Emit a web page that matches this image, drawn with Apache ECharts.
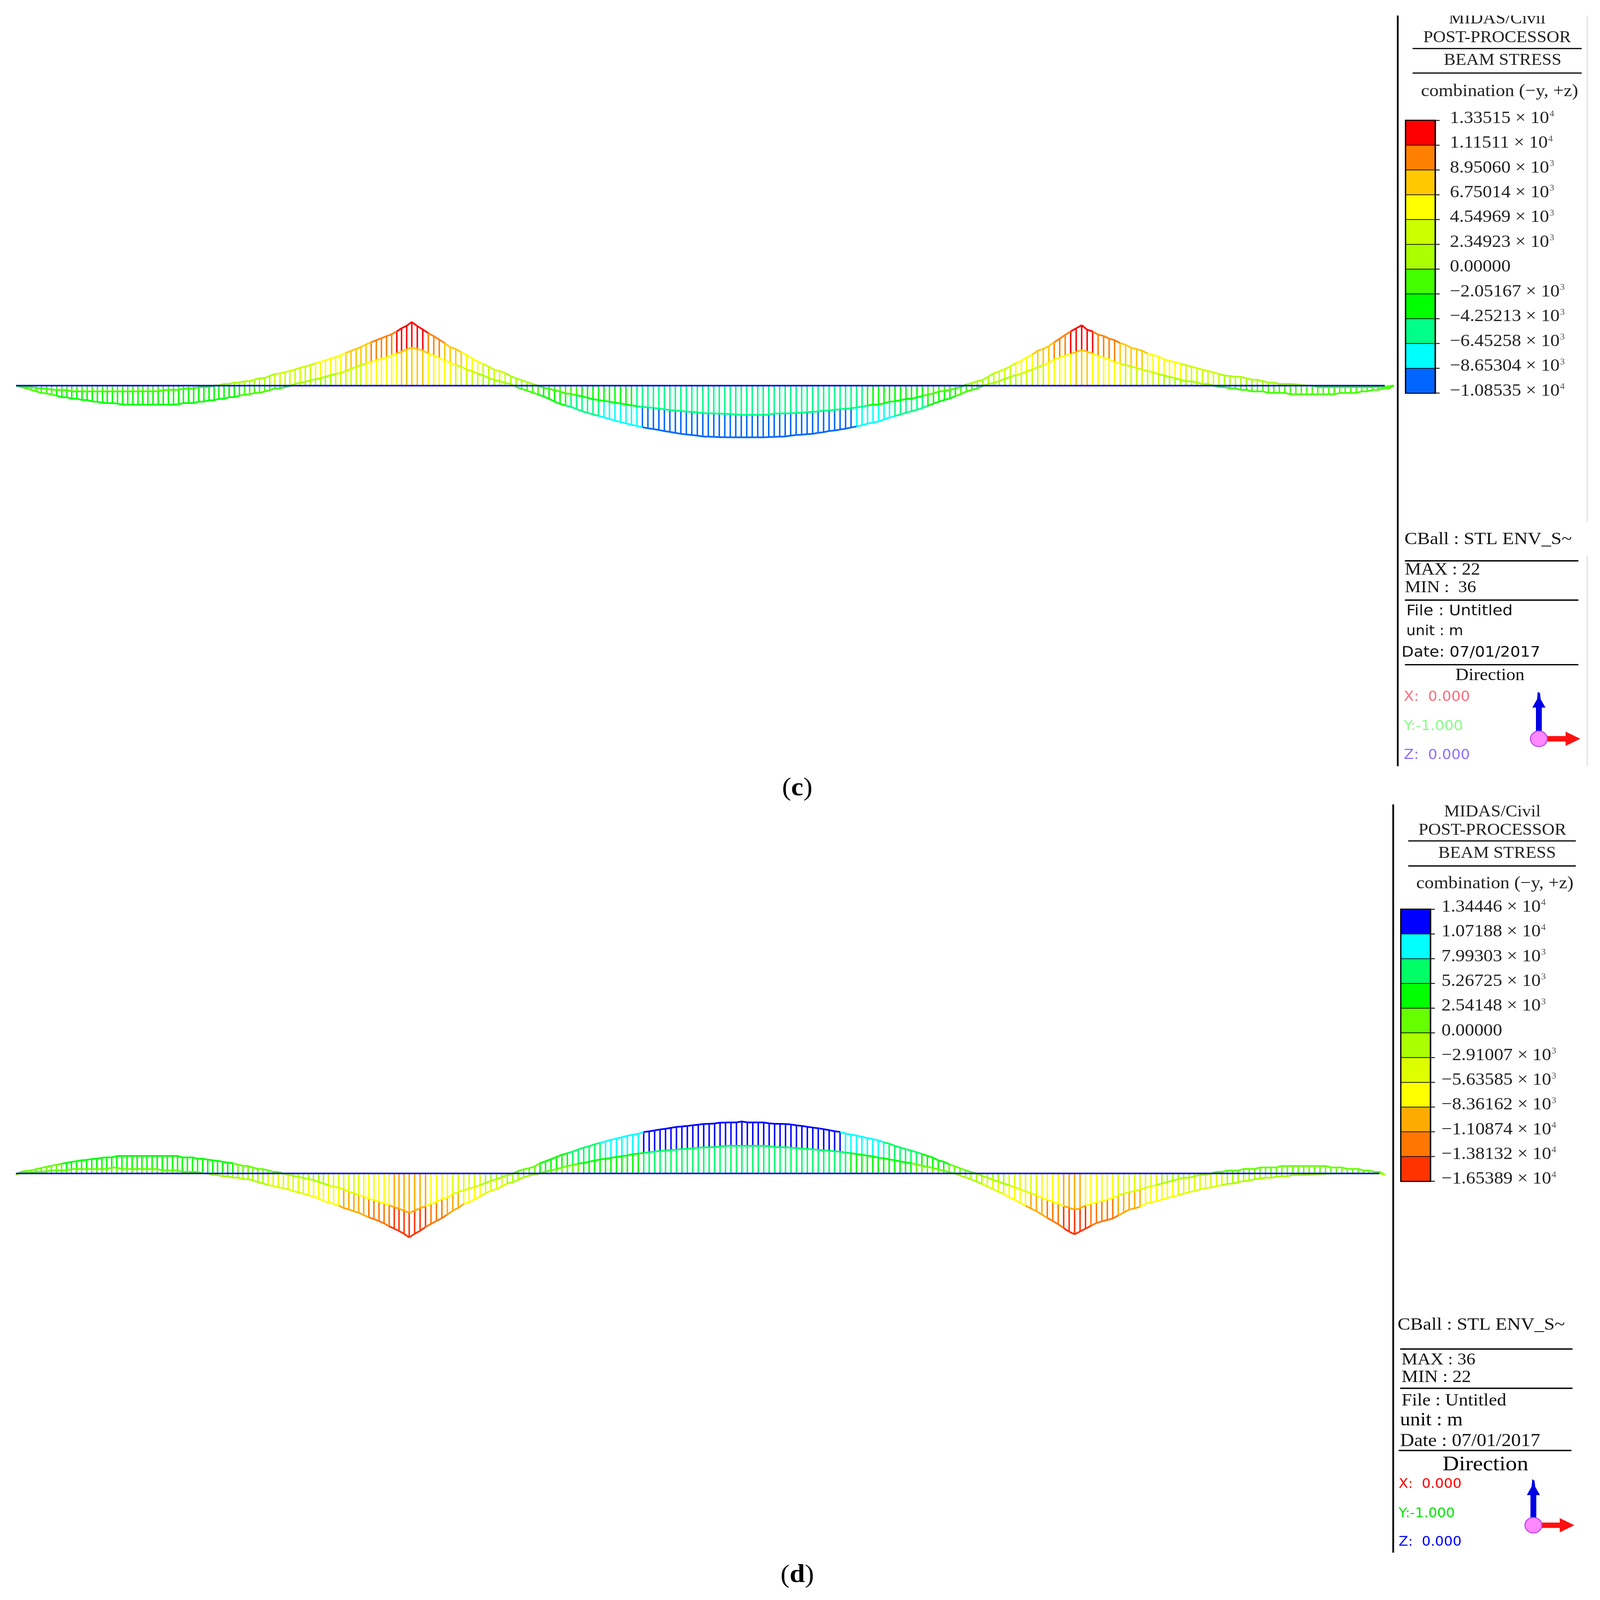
<!DOCTYPE html>
<html>
<head>
<meta charset="utf-8">
<title>Beam stress</title>
<script src="https://cdn.jsdelivr.net/npm/echarts@6/dist/echarts.min.js"></script>
<style>
html,body{margin:0;padding:0;background:#fff;overflow:hidden;}
</style>
</head>
<body>
<div id="main"></div>
<script>
// position along the bridge, side span / main span / side span
var stations=[
0,1.4,2.8,4.2,5.5,6.9,8.3,9.7,11.1,12.5,
13.9,15.2,16.6,18,19.4,20.8,22.2,23.6,24.9,26.3,
27.7,29.1,30.5,31.9,33.3,34.6,36,37.4,38.8,40.2,
41.6,43,44.4,45.7,47.1,48.5,49.9,51.3,52.7,54.1,
55.4,56.8,58.2,59.6,61,62.4,63.8,65.1,66.5,67.9,
69.3,70.7,72.1,73.5,74.8,76.2,77.6,79,80.4,81.8,
83.2,84.5,85.9,87.3,88.7,90.1,91.5,92.9,94.2,95.6,
97,98.4,99.8,101.2,102.6,104,105.3,106.7,108.1,
109.6,111.1,112.6,114.1,115.6,117.1,118.6,120.1,121.6,123.1,
124.6,126.1,127.6,129.1,130.6,132.1,133.6,135.1,136.6,138.1,
139.6,141.1,142.6,144.1,145.6,147.1,148.6,150.1,151.6,153.1,
154.6,156.1,157.6,159.1,160.6,162.1,163.6,165.1,166.6,168.1,
169.6,171.1,172.6,174.1,175.6,177.1,178.6,180.1,181.6,183.1,
184.6,186.1,187.6,189.1,190.6,192.1,193.6,195.1,196.6,198.1,
199.6,201.1,202.6,204.1,205.6,207.1,208.6,210.1,211.6,213.1,
214.6,216.1,217.6,219.1,220.6,222.1,223.6,225.1,226.6,228.1,
229.6,231.1,232.6,234.1,235.6,237.1,238.6,240.1,241.6,243.1,
244.6,246.1,247.6,249.1,250.6,252.1,253.6,255.1,256.6,258.1,
259.6,261.1,262.6,264.1,265.6,267.1,268.6,270.1,271.6,273.1,
274.6,276.1,277.6,279.1,280.6,282.1,283.6,285.1,286.6,288.1,
289.6,291.1,
292.6,294.1,295.6,297.1,298.6,300.1,301.6,303.1,304.6,306.1,
307.6,309.1,310.6,312.1,313.6,315.1,316.6,318.1,319.6,321.1,
322.6,324.1,325.6,327.1,328.6,330.1,331.6,333.1,334.6,336.1,
337.6,339.1,340.6,342.1,343.6,345.1,346.6,348.1,349.6,351.1,
352.6,354.1,355.6,357.1,358.6,360.1,361.6,363.1,364.6,366.1,
367.6,369.1,370.6,372.1,373.6,375.1,376.4];

// figure (c) envelopes
var cUpper=[
0,-310,-310,-320,-500,-600,-620,-850,-900,-920,
-950,-1180,-1210,-1210,-1220,-1220,-1220,-1220,-1220,-1220,
-1220,-1220,-1210,-1210,-1210,-1200,-1190,-1190,-1180,-950,
-900,-900,-880,-620,-600,-580,-320,-300,-280,30,
60,350,380,640,660,900,950,1250,1550,1600,
2050,2440,2550,2850,3080,3390,3750,4040,4330,4680,
5000,5300,5650,6000,6400,6870,7300,7700,8100,8650,
9120,9530,9950,10380,10780,11380,12040,12560,13351,
12500,11800,11020,10380,9650,8930,8060,7700,6990,6450,
5690,5100,4500,4030,3320,3080,2610,2010,1540,1140,
710,360,0,-470,-640,-1000,-1230,-1610,-1780,-1990,
-2280,-2540,-2840,-3030,-3200,-3370,-3580,-3740,-3960,-4150,
-4310,-4460,-4570,-4670,-4830,-4980,-5140,-5210,-5330,-5450,
-5520,-5620,-5760,-5830,-5830,-5880,-5930,-5970,-6070,-6140,
-6140,-6140,-6140,-6140,-6090,-5880,-5830,-5830,-5800,-5740,
-5690,-5550,-5520,-5430,-5240,-5210,-5100,-4930,-4880,-4740,
-4600,-4430,-4200,-3980,-3960,-3720,-3370,-3270,-3060,-2800,
-2750,-2460,-2180,-1870,-1610,-1230,-1110,-920,-590,-310,
240,550,950,1190,1900,2610,3030,3480,4030,4740,
5210,5930,6520,7350,7700,8300,9120,9840,10670,11380,12040,12680,
11730,11380,10710,10430,9840,9530,8930,8580,7960,7680,
7350,6750,6450,6110,5520,5210,4930,4620,4310,3980,
3670,3370,3080,2770,2440,2130,2010,1850,1850,1540,
1230,1230,950,640,640,360,360,360,280,120,
20,0,-310,-310,-310,-310,-310,-310,-310,-310,
-310,-310,-310,-310,-310,-100,50];
var cLower=[
0,-310,-590,-900,-1210,-1520,-1660,-1850,-2130,-2420,
-2460,-2750,-2750,-3030,-3030,-3320,-3370,-3630,-3670,-3670,
-3790,-3980,-3980,-3980,-3980,-3980,-3980,-3980,-3980,-3980,
-3980,-3980,-3910,-3670,-3670,-3670,-3360,-3360,-3080,-3080,
-2770,-2770,-2420,-2420,-2130,-1900,-1830,-1540,-1540,-1230,
-950,-590,-590,-310,-50,360,640,780,1110,1370,
1540,1870,2180,2460,2680,3100,3510,3930,4360,4620,
4930,5330,5620,5930,6350,6750,7110,7630,8010,
7700,7350,6750,6280,5810,5210,4860,4270,3980,3370,
3080,2490,2180,1540,1230,950,590,360,-300,-660,
-1070,-1470,-1850,-2280,-2770,-3340,-3840,-4150,-4460,-4930,
-5380,-5710,-6040,-6350,-6660,-6990,-7350,-7650,-7920,-8220,
-8460,-8720,-8960,-9120,-9310,-9550,-9720,-9910,-10120,-10240,
-10360,-10500,-10670,-10710,-10760,-10810,-10840,-10853,-10853,-10853,
-10853,-10853,-10853,-10853,-10800,-10760,-10710,-10670,-10500,-10360,
-10310,-10190,-10120,-9910,-9770,-9530,-9430,-9220,-9030,-8790,
-8560,-8320,-7990,-7750,-7510,-7110,-6710,-6380,-6040,-5690,
-5380,-5070,-4690,-4220,-3770,-3370,-3010,-2680,-2200,-1780,
-1230,-900,-590,-50,360,590,950,1420,1850,2250,
2490,3030,3390,3890,4310,4790,5520,5880,6280,6640,7060,7470,
7110,6750,6160,5880,5520,4980,4620,4340,3980,3720,
3390,3080,2770,2440,2130,1850,1540,1230,920,920,
640,360,360,0,-310,-310,-590,-590,-900,-900,
-1210,-1210,-1210,-1520,-1520,-1520,-1520,-1820,-1820,-1820,
-1820,-1820,-1820,-1820,-1820,-1820,-1540,-1540,-1540,-1540,
-1210,-1210,-900,-900,-590,-590,50];

// figure (d) envelopes
var dUpper=[
-380,470,640,800,1110,1400,1720,1960,2250,2510,
2750,3000,3180,3390,3500,3740,3800,4060,4150,4150,
4500,4530,4530,4530,4530,4530,4530,4530,4530,4530,
4530,4530,4530,4150,4150,4150,3800,3800,3570,3390,
3250,3040,2770,2660,2280,1980,1900,1550,1170,1140,
790,410,380,0,-350,-640,-850,-1170,-1460,-1690,
-2220,-2570,-3040,-3390,-3680,-4090,-4730,-5110,-5550,-5990,
-6540,-6890,-7300,-7710,-8180,-8760,-9110,-9610,-10190,
-9610,-9020,-8440,-7880,-7420,-6600,-6250,-5310,-4790,-4350,
-3910,-3470,-2980,-2450,-1930,-1430,-990,-410,0,640,
1080,1370,1810,2660,3150,3680,4260,4820,5260,5660,
6220,6690,7040,7530,7910,8290,8700,9020,9370,9750,
10020,10250,10730,10890,11130,11390,11560,11800,12030,12150,
12290,12470,12610,12790,12850,12910,13140,13170,13200,13200,
13444,13200,13200,13200,13200,12960,12850,12820,12790,12670,
12440,12290,12060,11860,11680,11450,11210,10920,10730,10340,
10040,9810,9490,9170,8880,8580,8060,7710,7180,6750,
6310,5930,5490,5050,4560,4120,3390,3040,2370,1870,
1340,820,380,0,-640,-1050,-1580,-2100,-2600,-3070,
-3560,-4060,-4640,-5080,-5610,-6250,-6830,-7330,-7770,-8440,-8880,-9370,
-9020,-8290,-7880,-7480,-7120,-6750,-6370,-5610,-5230,-4850,
-4500,-4120,-3740,-3330,-2980,-2600,-2220,-1870,-1460,-1110,
-1110,-730,-350,-350,0,410,410,760,760,760,
1170,1170,1170,1550,1550,1550,1550,1930,1930,1930,
1930,1930,1930,1930,1930,1930,1550,1550,1550,1170,
1170,1170,760,760,410,410,-350];
var dLower=[
-380,170,170,170,470,470,470,790,790,790,
790,1140,1140,1140,1140,1140,1140,1140,1140,1520,
1520,1140,1140,1140,1140,1140,1140,1140,1140,790,
790,790,790,410,410,410,410,0,0,-410,
-410,-730,-730,-1080,-1080,-1460,-1460,-1840,-2220,-2600,
-2980,-3210,-3560,-3800,-4120,-4560,-4910,-5230,-5640,-5960,
-6480,-7120,-7480,-7850,-8290,-8960,-9310,-9810,-10130,-10770,
-11360,-11800,-12320,-12900,-13690,-14280,-14860,-15650,-16539,
-15590,-14860,-13840,-13050,-12290,-11560,-10630,-9610,-8930,-7850,
-7480,-6690,-5960,-5140,-4440,-4060,-3330,-2600,-2250,-1640,
-990,-580,-230,0,470,790,1140,1520,1900,2220,
2510,2720,3040,3330,3620,3800,4030,4290,4470,4670,
4930,5140,5290,5490,5660,5810,5960,6040,6160,6310,
6390,6510,6630,6750,6780,6810,6950,7150,7150,7150,
7150,7150,7150,7150,7150,7040,6830,6780,6780,6660,
6570,6450,6390,6250,6100,5990,5870,5750,5610,5430,
5230,5050,4820,4610,4410,4090,3940,3620,3420,3120,
2860,2660,2340,1990,1720,1430,1050,700,320,0,
-550,-990,-1520,-2040,-2740,-3390,-4000,-4730,-5290,-6190,
-6800,-7560,-8320,-9080,-9750,-10630,-11500,-12320,-13140,-14130,-15070,-15740,
-15010,-14280,-13550,-12820,-12380,-12030,-11650,-10860,-10130,-9370,
-9020,-8640,-7850,-7480,-7120,-6750,-6340,-5990,-5610,-5230,
-4850,-4500,-4120,-3770,-3650,-3300,-3010,-2690,-2630,-2250,
-1990,-1870,-1490,-1340,-1110,-1110,-820,-730,-730,-410,
-410,-410,-350,-230,-200,-100,-50,0,0,0,
0,0,0,0,0,0,-350];

// legend ticks, top to bottom
var cTicks=[13351.5,11151.1,8950.6,6750.14,4549.69,2349.23,0,-2051.67,-4252.13,-6452.58,-8653.04,-10853.5];
var cTickText=['1.33515 × 10','1.11511 × 10','8.95060 × 10','6.75014 × 10','4.54969 × 10','2.34923 × 10','0.00000','−2.05167 × 10','−4.25213 × 10','−6.45258 × 10','−8.65304 × 10','−1.08535 × 10'];
var cTickExp=['4','4','3','3','3','3','','3','3','3','3','4'];
var cColors=['#ff0000','#ff8000','#ffc800','#ffff00','#ccff00','#aaff00','#44ff00','#00ff00','#00ff88','#00ffff','#0066ff'];

var dTicks=[13444.6,10718.8,7993.03,5267.25,2541.48,0,-2910.07,-5635.85,-8361.62,-11087.4,-13813.2,-16538.9];
var dTickText=['1.34446 × 10','1.07188 × 10','7.99303 × 10','5.26725 × 10','2.54148 × 10','0.00000','−2.91007 × 10','−5.63585 × 10','−8.36162 × 10','−1.10874 × 10','−1.38132 × 10','−1.65389 × 10'];
var dTickExp=['4','4','3','3','3','','3','3','3','4','4','4'];
var dColors=['#0000ff','#00ffff','#00ff66','#00ff00','#66ff00','#aaff00','#ddff00','#ffff00','#ffaa00','#ff7700','#ff3300'];

var serif='"Liberation Serif"';
var sans='"DejaVu Sans"';

// the browser window can be smaller than the figure, fit the figure into it
var W=4371,H=4730;
var viewW=Math.min(window.innerWidth||W,W),viewH=Math.min(window.innerHeight||H,H);
var kx=viewW/W,ky=viewH/H;
var main=document.getElementById('main');
main.style.width=viewW+'px';
main.style.height=viewH+'px';

function bandColor(v,ticks,colors){
	for(var k=0;k<colors.length;k++){
		if(v>=ticks[k+1]) return colors[k];
	}
	return colors[colors.length-1];
}

function seg(p0,p1,color,w){
	return {type:'line',shape:{x1:p0[0],y1:p0[1],x2:p1[0],y2:p1[1]},style:{stroke:color,lineWidth:w,lineCap:'butt'}};
}

// one stem per station: base -> nearer envelope -> farther envelope
function stemRender(ticks,colors){
	var w=4*kx;
	return function(params,api){
		var s=api.value(0),a=api.value(1),b=api.value(2);
		var base=api.coord([s,0]);
		var kids=[];
		if(a*b<0){
			kids.push(seg(base,api.coord([s,a]),bandColor(a,ticks,colors),w));
			kids.push(seg(base,api.coord([s,b]),bandColor(b,ticks,colors),w));
		}else{
			var near=Math.abs(a)<Math.abs(b)?a:b;
			var far=Math.abs(a)<Math.abs(b)?b:a;
			var pn=api.coord([s,near]),pf=api.coord([s,far]);
			kids.push(seg(base,pn,bandColor(near,ticks,colors),w));
			kids.push(seg(pn,pf,bandColor(far,ticks,colors),w));
		}
		return {type:'group',children:kids};
	};
}

// envelope pieces, colored by the band they are in
function envRender(ticks,colors,arr){
	return function(params,api){
		var i=params.dataIndex;
		if(i>=stations.length-1) return null;
		var p0=api.coord([stations[i],arr[i]]);
		var p1=api.coord([stations[i+1],arr[i+1]]);
		var m=(arr[i]+arr[i+1])/2;
		return seg(p0,p1,bandColor(m,ticks,colors),5*ky);
	};
}

function rows(up,lo){
	var r=[];
	for(var i=0;i<stations.length;i++) r.push([stations[i],up[i],lo[i]]);
	return r;
}

function customSeries(idx,up,lo,render,z){
	return {type:'custom',xAxisIndex:idx,yAxisIndex:idx,data:rows(up,lo),encode:{x:0,y:[1,2]},silent:true,animation:false,renderItem:render,z:z};
}

function panelSeries(idx,up,lo,ticks,colors,baseEnd){
	return [
		customSeries(idx,up,lo,stemRender(ticks,colors),2),
		customSeries(idx,up,lo,envRender(ticks,colors,up),3),
		customSeries(idx,up,lo,envRender(ticks,colors,lo),3),
		{type:'line',xAxisIndex:idx,yAxisIndex:idx,data:[[0,0],[baseEnd,0]],symbol:'none',silent:true,animation:false,
			lineStyle:{color:'#0000ff',width:4.6*ky},z:4}
	];
}

// side panels are laid out in figure pixels, one group scales them
var g=[];
function rect(x,y,w,h,fill,z){g.push({type:'rect',shape:{x:x,y:y,width:w,height:h},style:{fill:fill},silent:true,z:z||10});}
function hline(x1,x2,y,w){rect(x1,y-w/2,x2-x1,w,'#000');}
function txt(s,x,base,size,font,color,opts){
	var o=opts||{};
	g.push({type:'text',x:x,y:base-size*0.32,silent:true,z:o.z||10,style:{text:s,fontSize:size,fontFamily:font,fontWeight:o.weight||'normal',
		fill:color||'#111',align:o.align||'left',verticalAlign:'middle'}});
}
function poly(pts,fill){g.push({type:'polygon',shape:{points:pts},style:{fill:fill},silent:true,z:11});}

function legendBlock(c){
	var i;
	rect(c.axisX-2.5,c.axisTop,5,c.axisBottom-c.axisTop,'#111');
	txt('MIDAS/Civil',c.titleX,c.y0,c.f1,serif,'#222',{align:'center',z:8});
	txt('POST-PROCESSOR',c.titleX,c.y1,c.f1,serif,'#222',{align:'center'});
	hline(c.ruleL,c.ruleR,c.r1,3.5);
	txt('BEAM STRESS',c.titleX2,c.y2,c.f1,serif,'#222',{align:'center'});
	hline(c.ruleL,c.ruleR,c.r2,3.5);
	txt('combination (−y, +z)',c.comboX,c.y3,c.f2,serif,'#222');
	// color bar
	var n=c.colors.length,h=(c.barBottom-c.barTop)/n;
	rect(c.barL,c.barTop-2,c.barR-c.barL,c.barBottom-c.barTop+4,'#000');
	for(i=0;i<n;i++){
		rect(c.barL+3.5,c.barTop+i*h+1,c.barR-c.barL-7.5,h-2,c.colors[i]);
	}
	for(i=0;i<=n;i++){
		hline(c.barR,c.barR+10,c.barTop+i*h,2.5);
		var rich={m:{fontSize:c.f3,fontFamily:serif,fill:'#222'},s:{fontSize:c.f3*0.5,fontFamily:serif,fill:'#555',verticalAlign:'top',padding:[0,0,18,1]}};
		var label='{m|'+c.tickText[i]+'}'+(c.tickExp[i]?'{s|'+c.tickExp[i]+'}':'');
		g.push({type:'text',x:c.labelX,y:c.barTop+i*h-6,silent:true,z:10,style:{text:label,rich:rich,align:'left',verticalAlign:'middle'}});
	}
}

// figure (c) side panel
legendBlock({axisX:3818.5,axisTop:46,axisBottom:2265,titleX:4090,titleX2:4105,y0:72,y1:128,y2:195,y3:287,f1:48,f2:51,f3:51,
	ruleL:3859,ruleR:4321,r1:143.5,r2:216,comboX:3882,barL:3838,barR:3923,barTop:356,barBottom:1162,labelX:3961,
	colors:cColors,tickText:cTickText,tickExp:cTickExp});
rect(3830,0,520,46,'#fff',9);
rect(4334,46,4,1497,'#e6e6e6');
rect(4334,1643,4,622,'#e6e6e6');
txt('CBall : STL ENV_S~',3837,1612,52,serif);
hline(3838,4312,1658,4);
txt('MAX : 22',3838,1702,50,serif);
txt('MIN :  36',3838,1754,49,serif);
hline(3838,4312,1774,4);
txt('File : Untitled',3842,1822,44,sans);
txt('unit : m',3842,1880,40,sans);
txt('Date: 07/01/2017',3829,1944,43,sans);
hline(3838,4312,1965,4);
txt('Direction',3976,2013,50,serif);
txt('X:  0.000',3835,2074,40,sans,'#ff6b7d');
txt('Y:-1.000',3835,2161,40,sans,'#86ff86');
txt('Z:  0.000',3835,2246,40,sans,'#8f70ff');

// figure (d) side panel
legendBlock({axisX:3806,axisTop:2378,axisBottom:4590,titleX:4077,titleX2:4090,y0:2416,y1:2471,y2:2539,y3:2629,f1:48,f2:51,f3:51,
	ruleL:3847,ruleR:4305,r1:2486,r2:2560,comboX:3869,barL:3825,barR:3910,barTop:2688,barBottom:3492,labelX:3938,
	colors:dColors,tickText:dTickText,tickExp:dTickExp});
txt('CBall : STL ENV_S~',3818,3934,52,serif);
hline(3825,4296,3988,4);
txt('MAX : 36',3829,4036,49,serif);
txt('MIN : 22',3829,4088,51,serif);
hline(3825,4296,4104,4);
txt('File : Untitled',3829,4158,51,serif);
txt('unit : m',3825,4217,55,serif,'#000');
txt('Date : 07/01/2017',3825,4278,53,serif);
hline(3821,4293,4288,4);
txt('Direction',3941,4350,62,serif,'#000');
txt('X:  0.000',3821,4401,38,sans,'#ff0000');
txt('Y:-1.000',3821,4487,38,sans,'#00e800');
txt('Z:  0.000',3821,4572,38,sans,'#0000ff');

// little axis triad
function triad(cx,cy,top,right){
	poly([[cx-8,cy-20],[cx-8,top+47],[cx-18,top+47],[cx-5,top+22],[cx-3,top],[cx+3,top+4],[cx+5,top+22],[cx+18,top+47],[cx+8,top+47],[cx+8,cy-20]],'#0000e6');
	poly([[cx+20,cy-8],[right-40,cy-8],[right-40,cy-21],[right,cy],[right-40,cy+21],[right-40,cy+8],[cx+20,cy+8]],'#ff1010');
	g.push({type:'circle',shape:{cx:cx,cy:cy,r:23},style:{fill:'#ff88ff',stroke:'#c040ff',lineWidth:3},silent:true,z:12});
}
triad(4204,2184,2045,4317);
triad(4189,4509,4373,4301);

// captions
var capRich={p:{fontSize:75,fontFamily:serif,fill:'#000'},b:{fontSize:75,fontFamily:serif,fontWeight:'bold',fill:'#000'}};
g.push({type:'text',x:2178,y:2332,silent:true,style:{text:'{p|(}{b|c}{p|)}',rich:capRich,align:'center',verticalAlign:'middle'}});
g.push({type:'text',x:2178,y:4658,silent:true,style:{text:'{p|(}{b|d}{p|)}',rich:capRich,align:'center',verticalAlign:'middle'}});

var myChart=echarts.init(main,null,{renderer:'canvas',width:viewW,height:viewH});
var option={
	animation:false,
	backgroundColor:'#fff',
	grid:[
		{left:44*kx,top:900*ky,width:3764*kx,height:500*ky},
		{left:44*kx,top:3200*ky,width:3739*kx,height:500*ky}
	],
	xAxis:[
		{type:'value',gridIndex:0,min:0,max:376.4,show:false},
		{type:'value',gridIndex:1,min:0,max:376.4,show:false}
	],
	yAxis:[
		{type:'value',gridIndex:0,min:-18460,max:17040,show:false},
		{type:'value',gridIndex:1,min:-20212.5,max:23537.5,show:false}
	],
	series:panelSeries(0,cUpper,cLower,cTicks,cColors,373.9).concat(panelSeries(1,dUpper,dLower,dTicks,dColors,374.9)),
	graphic:{elements:[{type:'group',x:0,y:0,scaleX:kx,scaleY:ky,silent:true,children:g}]}
};
myChart.setOption(option);
</script>
</body>
</html>
